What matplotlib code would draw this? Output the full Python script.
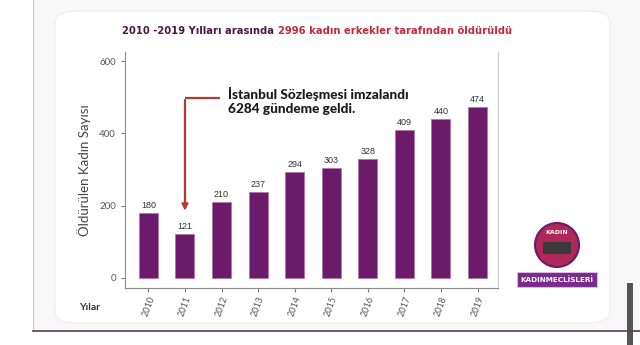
import matplotlib
matplotlib.use("Agg")
import matplotlib.pyplot as plt
from matplotlib.patches import FancyBboxPatch, Ellipse, Rectangle
from matplotlib.lines import Line2D

years = ["2010", "2011", "2012", "2013", "2014", "2015", "2016", "2017", "2018", "2019"]
killed = [180, 121, 210, 237, 294, 303, 328, 409, 440, 474]
y_ticks = [0, 200, 400, 600]

title_left = "2010 -2019 Yılları arasında "
title_right = "2996 kadın erkekler tarafından öldürüldü"
note = "İstanbul Sözleşmesi imzalandı\n6284 gündeme geldi."

BAR = "#6b1b69"
DARK = "#4a1747"
RED = "#c42a3c"
ARROW = "#b83a2e"

W, H = 640, 345
fig = plt.figure(figsize=(6.4, 3.45), dpi=100)
fig.patch.set_facecolor("#f8f8f8")


def fx(px):
    return px / W


def fy(py):
    return 1 - py / H


# page frame: white strip on the left, dividing lines, scrollbar
fig.add_artist(Rectangle((0, 0), fx(33), 1, transform=fig.transFigure,
                         facecolor="white", edgecolor="none", zorder=0))
fig.add_artist(Rectangle((fx(33), 0), 1, fy(331), transform=fig.transFigure,
                         facecolor="white", edgecolor="none", zorder=0))
fig.add_artist(Line2D([fx(33), fx(33)], [fy(331), 1], transform=fig.transFigure,
                      color="#c8c8c8", lw=0.8))
fig.add_artist(Line2D([fx(33), 1], [fy(331)] * 2, transform=fig.transFigure,
                      color="#5a3a58", lw=1.2))
fig.add_artist(Rectangle((fx(627), 0), fx(6), 62 / H, transform=fig.transFigure,
                         facecolor="#555555", edgecolor="none"))

# card
fig.add_artist(FancyBboxPatch((fx(55), fy(323)), fx(555), 312 / H,
                              boxstyle="round,pad=0,rounding_size=0.035",
                              transform=fig.transFigure, facecolor="white",
                              edgecolor="#ececec", lw=0.8, zorder=0.5))

ax = fig.add_axes([fx(125), fy(288), fx(373), 236 / H])
ax.set_zorder(3)
ax.set_facecolor("none")
x = list(range(len(years)))
ax.bar(x, killed, width=0.52, color=BAR, edgecolor="#b070a8", linewidth=0.5, zorder=2)
for xi, v in zip(x, killed):
    ax.text(xi, v + 8, str(v), ha="center", va="bottom", fontsize=6.5,
            color="#333333", family="Liberation Sans")

ax.set_xlim(-0.64, 9.56)
ax.set_ylim(-28, 625)
ax.set_yticks(y_ticks)
ax.set_yticklabels([str(t) for t in y_ticks], fontsize=7, color="#555555", family="Lato")
ax.set_xticks(x)
ax.set_xticklabels(years, rotation=70, fontsize=6.5, color="#555555", family="Lato",
                   ha="center", va="top")
ax.tick_params(axis="both", length=3, color="#777777", width=0.8)
ax.tick_params(axis="x", pad=2)
for s in ["left", "bottom", "right"]:
    ax.spines[s].set_color("#8a8a8a")
    ax.spines[s].set_linewidth(0.8)
ax.spines["right"].set_color("#c8c8c8")
ax.spines["top"].set_visible(False)
ax.set_ylabel("Öldürülen Kadın Sayısı", fontsize=9.5, color="#444444", family="Lato",
              labelpad=6)

# annotation with elbow arrow pointing at 2011
ax.plot([1.95, 1.0], [498, 498], color=ARROW, lw=1.6, solid_capstyle="butt", zorder=3)
ax.annotate("", xy=(1.0, 178), xytext=(1.0, 500),
            arrowprops=dict(arrowstyle="-|>", color=ARROW, lw=1.6, mutation_scale=9),
            zorder=3)
ax.text(2.17, 490, note, ha="left", va="center", fontsize=9.8, fontweight="black",
        color="#1a1a1a", family="Lato", linespacing=1.2)

# title in two colours
t1 = fig.text(fx(122), fy(31), title_left, fontsize=7.2, fontweight="bold",
              color=DARK, family="DejaVu Sans", va="center", ha="left", zorder=4)
fig.canvas.draw()
bb = t1.get_window_extent()
fig.text(bb.x1 / fig.bbox.width, fy(31), title_right, fontsize=7.2,
         fontweight="bold", color=RED, family="DejaVu Sans", va="center", ha="left",
         zorder=4)

fig.text(fx(90), fy(307), "Yılar", fontsize=7.5, fontweight="bold",
         color="#333333", family="Lato", ha="center", va="center", zorder=4)

# badge
fig.add_artist(Ellipse((fx(557), fy(245)), fx(44), 44 / H, transform=fig.transFigure,
                       facecolor="#b0285a", edgecolor="#6b1b69", lw=1.5, zorder=4))
fig.text(fx(557), fy(233), "KADIN", fontsize=4.5, fontweight="bold",
         color="white", ha="center", va="center", zorder=5)
fig.add_artist(Rectangle((fx(543), fy(254)), fx(28), 12 / H,
                         transform=fig.transFigure, facecolor="#3a3a3a",
                         edgecolor="none", zorder=5))
fig.add_artist(Rectangle((fx(517), fy(287)), fx(80), 15 / H,
                         transform=fig.transFigure, facecolor="#7a2a8a",
                         edgecolor="#d8b8e0", lw=0.8, zorder=4))
fig.text(fx(557), fy(279.5), "KADINMECLİSLERİ", fontsize=5.2, color="white",
         family="Liberation Sans Narrow", ha="center", va="center", fontweight="bold",
         zorder=5)

fig.savefig("out.png", dpi=100, facecolor=fig.get_facecolor())
